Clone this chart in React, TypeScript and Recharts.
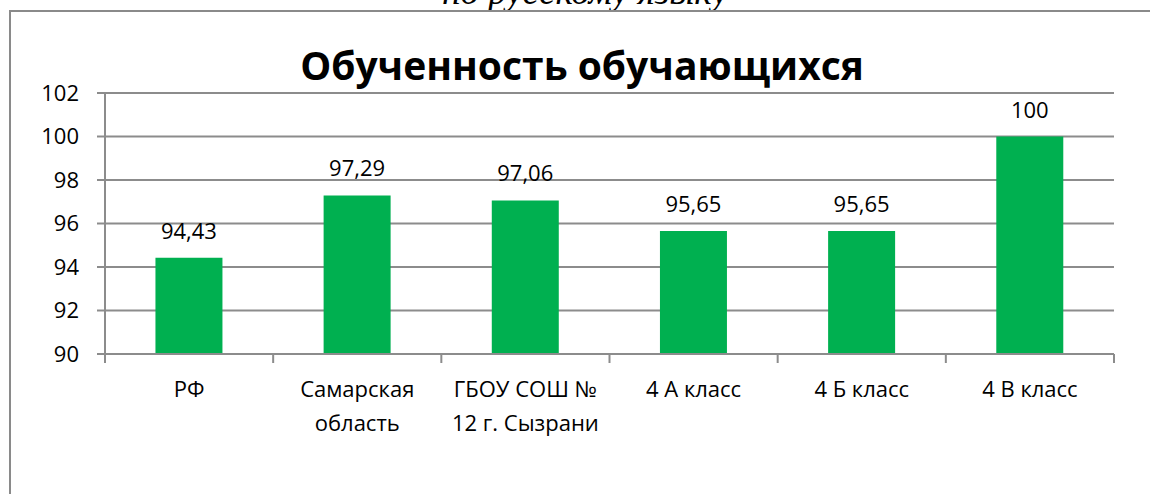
import { BarChart, Bar, XAxis, YAxis, CartesianGrid, LabelList } from 'recharts';

const categories = ['РФ', 'Самарская\nобласть', 'ГБОУ СОШ №\n12 г. Сызрани', '4 А класс', '4 Б класс', '4 В класс'];
const values = [94.43, 97.29, 97.06, 95.65, 95.65, 100];
const yTicks = [90, 92, 94, 96, 98, 100, 102];

const data = categories.map((name, i) => ({ name, value: values[i] }));

const W = 1150;
const H = 494;
const PLOT_LEFT = 105;
const PLOT_RIGHT = 1114;
const BAND = (PLOT_RIGHT - PLOT_LEFT) / categories.length;
const GRID = '#8c8c8c';
const FONT = '"Open Sans", "Noto Sans", sans-serif';

const XTick = ({ x, y, payload, index }: any) => {
  const lines = String(payload.value).split('\n');
  const left = x - BAND / 2;
  const right = x + BAND / 2;
  return (
    <g>
      <line x1={left} y1={y} x2={left} y2={y + 9} stroke={GRID} strokeWidth={2} />
      {index === categories.length - 1 && (
        <line x1={right} y1={y} x2={right} y2={y + 9} stroke={GRID} strokeWidth={2} />
      )}
      <text x={x} y={y} textAnchor="middle" fontFamily={FONT} fontSize={22} fill="#000">
        {lines.map((l, i) => (
          <tspan key={i} x={x} dy={i === 0 ? 43 : 34}>{l}</tspan>
        ))}
      </text>
    </g>
  );
};

const fmt = (v: any) => String(v).replace('.', ',');

export default function App() {
  return (
    <div style={{ position: 'absolute', left: 0, top: 0, width: W, height: H, overflow: 'hidden', background: '#fff' }}>
      <div style={{
        position: 'absolute', left: 0, width: 1170, top: -27, textAlign: 'center',
        fontFamily: '"Liberation Serif", serif', fontStyle: 'italic', fontSize: 37, lineHeight: '37px',
      }}>
        по русскому языку
      </div>
      <div style={{
        position: 'absolute', left: 9, top: 10, width: W + 40, height: H + 40,
        border: '2px solid #8a8a8a', boxSizing: 'border-box',
      }} />
      <div style={{
        position: 'absolute', left: 0, width: 1164, top: 45, textAlign: 'center',
        fontFamily: FONT, fontWeight: 700, fontSize: 39, lineHeight: '39px', color: '#000',
      }}>
        Обученность обучающихся
      </div>
      <div style={{ position: 'absolute', left: 0, top: 0 }}>
        <BarChart
          width={W}
          height={H}
          data={data}
          margin={{ top: 93, right: W - PLOT_RIGHT, bottom: 80, left: 0 }}
          barCategoryGap="30%"
        >
          <CartesianGrid vertical={false} stroke={GRID} strokeWidth={2} />
          <XAxis
            dataKey="name"
            height={60}
            interval={0}
            tickLine={false}
            tickSize={0}
            tickMargin={0}
            axisLine={{ stroke: GRID, strokeWidth: 2 }}
            tick={<XTick />}
          />
          <YAxis
            width={PLOT_LEFT}
            domain={[90, 102]}
            ticks={yTicks}
            interval={0}
            tickSize={8}
            tickMargin={18}
            tickLine={{ stroke: GRID, strokeWidth: 2 }}
            axisLine={{ stroke: GRID, strokeWidth: 2 }}
            tick={{ fill: '#000', fontSize: 22, fontFamily: FONT }}
          />
          <Bar dataKey="value" fill="#00B050" isAnimationActive={false}>
            <LabelList
              dataKey="value"
              position="top"
              offset={19}
              formatter={fmt}
              style={{ fill: '#000', fontSize: 22, fontFamily: FONT }}
            />
          </Bar>
        </BarChart>
      </div>
    </div>
  );
}
